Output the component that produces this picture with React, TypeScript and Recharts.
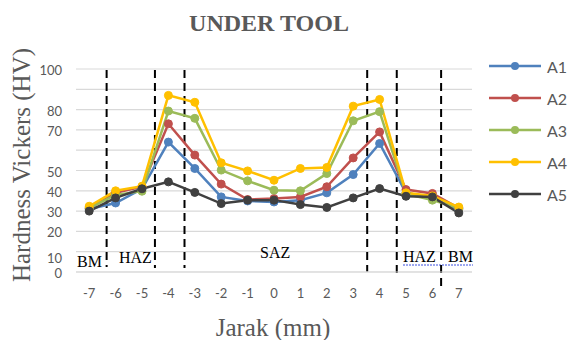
import { LineChart, Line, XAxis, YAxis, CartesianGrid, ReferenceLine } from "recharts";

// jarak dari pusat las (mm)
const jarak = [-7, -6, -5, -4, -3, -2, -1, 0, 1, 2, 3, 4, 5, 6, 7];

const a1 = [31, 34, 41, 64, 51, 37, 35, 34.5, 35.4, 39, 48, 63.3, 39, 36.5, 31];
const a2 = [31.5, 39, 42, 73, 57.6, 43.3, 35.7, 36.2, 37, 42, 56.2, 69, 40.6, 38.7, 31.5];
const a3 = [31.5, 38, 39.8, 79.3, 75.7, 50.2, 44.9, 40.3, 40, 48.5, 74.5, 79, 38.5, 35.4, 31.5];
const a4 = [32.4, 40, 42.3, 87, 83.6, 53.8, 49.8, 45.2, 51, 51.5, 81.7, 85, 39, 37.5, 32];
const a5 = [30, 36.5, 41, 44.4, 39.2, 33.7, 35.4, 35.4, 33.2, 31.8, 36.5, 41.1, 37.3, 37, 29.1];

const seriesNames = ["A1", "A2", "A3", "A4", "A5"];
const seriesColors = ["#4F81BD", "#C0504D", "#9BBB59", "#FFC000", "#404040"];
const seriesValues = [a1, a2, a3, a4, a5];

const yTicks = [0, 10, 20, 30, 40, 50, 60, 70, 80, 90, 100];
const yHidden = [60, 90];

// batas zona BM / HAZ / SAZ (garis putus-putus)
const zoneBounds = [-6.34, -4.51, -3.39, 3.53, 4.65, 6.33];
const zoneBottoms = [2.5, 2, 2, 0.3, -1.6, -8];

const data = jarak.map((x, i) => {
  const row: Record<string, number> = { x };
  seriesNames.forEach((n, s) => {
    row[n] = seriesValues[s][i];
  });
  return row;
});

const tickFont = "Lato, 'Open Sans', sans-serif";
const serif = "'Liberation Serif', 'DejaVu Serif', serif";

function YTick(props: any) {
  const { y, payload } = props;
  if (yHidden.includes(payload.value)) return null;
  const shift = payload.value === 10 ? 6 : 1;
  return (
    <text x={62} y={y + shift} textAnchor="end" dominantBaseline="central" fontSize={13} fill="#595959" fontFamily={tickFont}>
      {payload.value}
    </text>
  );
}

function XTick(props: any) {
  const { x, payload } = props;
  return (
    <text x={x} y={293} textAnchor="middle" dominantBaseline="central" fontSize={13} fill="#595959" fontFamily={tickFont}>
      {payload.value}
    </text>
  );
}

function LegendBox() {
  return (
    <div style={{ position: "absolute", left: 489, top: 50, fontFamily: tickFont }}>
      {seriesNames.map((n, i) => (
        <div key={n} style={{ display: "flex", alignItems: "center", height: 32 }}>
          <svg width={54} height={12}>
            <line x1={0} y1={6} x2={52} y2={6} stroke={seriesColors[i]} strokeWidth={2.5} />
            <circle cx={26} cy={6} r={4} fill={seriesColors[i]} />
          </svg>
          <span style={{ fontSize: 16, color: "#595959", marginLeft: 4 }}>{n}</span>
        </div>
      ))}
    </div>
  );
}

export default function App() {
  return (
    <div style={{ position: "absolute", left: 0, top: 0, width: 571, height: 340, background: "#fff" }}>
      <LineChart width={571} height={340} data={data} margin={{ top: 69, right: 99, bottom: 0, left: 0 }}>
        <CartesianGrid horizontal vertical={false} stroke="#d9d9d9" strokeWidth={1.2} />
        <XAxis
          dataKey="x"
          type="number"
          domain={[-7.5, 7.5]}
          ticks={jarak}
          height={68}
          tickLine={false}
          axisLine={{ stroke: "#d9d9d9" }}
          tick={<XTick />}
          allowDataOverflow
        />
        <YAxis
          domain={[0, 100]}
          ticks={yTicks}
          width={76}
          tickLine={false}
          axisLine={false}
          tick={<YTick />}
          interval={0}
        />
        {zoneBounds.map((b, i) => (
          <ReferenceLine
            key={b}
            segment={[
              { x: b, y: 99.5 },
              { x: b, y: zoneBottoms[i] },
            ]}
            stroke="#000"
            strokeWidth={2}
            strokeDasharray="8 5"
            ifOverflow="visible"
          />
        ))}
        {seriesNames.map((n, i) => (
          <Line
            key={n}
            dataKey={n}
            stroke={seriesColors[i]}
            strokeWidth={2.5}
            dot={{ r: 4, fill: seriesColors[i], stroke: seriesColors[i], strokeWidth: 1 }}
            isAnimationActive={false}
          />
        ))}
        <text x={269} y={31} textAnchor="middle" fontSize={24} fontWeight="bold" fill="#595959" fontFamily={serif}>
          UNDER TOOL
        </text>
        <text
          x={30}
          y={165}
          transform="rotate(-90 30 165)"
          textAnchor="middle"
          fontSize={25}
          fill="#595959"
          fontFamily={serif}
        >
          Hardness Vickers (HV)
        </text>
        <text x={273} y={336} textAnchor="middle" fontSize={25} fill="#595959" fontFamily={serif}>
          Jarak (mm)
        </text>
        <text x={77} y={267} fontSize={16} fill="#000" fontFamily={serif}>BM</text>
        <text x={119} y={263} fontSize={16} fill="#000" fontFamily={serif}>HAZ</text>
        <text x={260} y={258} fontSize={16} fill="#000" fontFamily={serif}>SAZ</text>
        <text x={403} y={262} fontSize={16} fill="#000" fontFamily={serif}>HAZ</text>
        <text x={448} y={262} fontSize={16} fill="#000" fontFamily={serif}>BM</text>
        <line x1={403} y1={265} x2={473} y2={265} stroke="#3b4fe0" strokeWidth={1} strokeDasharray="2 1" />
      </LineChart>
      <LegendBox />
    </div>
  );
}
